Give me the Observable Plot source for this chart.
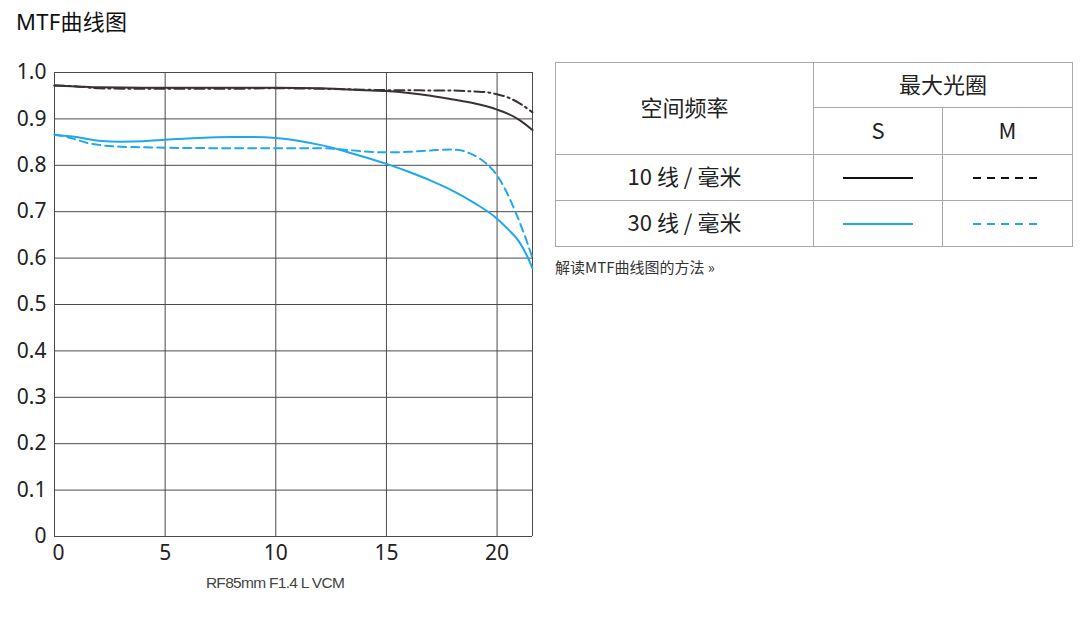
<!DOCTYPE html>
<html>
<head>
<meta charset="utf-8">
<script src="https://cdn.jsdelivr.net/npm/d3@7"></script>
<script src="https://cdn.jsdelivr.net/npm/@observablehq/plot@0.6"></script>
<style>
  html, body { margin: 0; padding: 0; background: #fff; }
  body { width: 1080px; height: 619px; position: relative; overflow: hidden;
         font-family: "Noto Sans", "Noto Sans CJK SC", sans-serif; color: #222; }
  #title { position: absolute; left: 16px; top: 4px; font-size: 22px; color: #111;
           font-family: "Noto Sans", "Noto Sans CJK SC", sans-serif; letter-spacing: 0.3px; }
  #chart { position: absolute; left: 0; top: 0; }
  #caption { position: absolute; left: 175px; width: 200px; top: 574px; text-align: center;
             font-family: "Liberation Sans", Arial, sans-serif; font-size: 15.5px; color: #444; letter-spacing: -0.7px; }
  #legend { position: absolute; left: 555px; top: 62px; border-collapse: collapse; width: 518px; }
  #legend td { border: 1px solid #a8a8a8; text-align: center; font-size: 22px; color: #222; padding: 0 0 4px 0;
               font-family: "Noto Sans CJK SC", "Noto Sans", sans-serif; line-height: 1.2; }
  #link { position: absolute; left: 555px; top: 256px; font-size: 15px; color: #333;
          font-family: "Noto Sans CJK SC", "Noto Sans", sans-serif; }
</style>
</head>
<body>
<div id="title"></div>
<div id="chart"></div>
<div id="caption"></div>
<table id="legend"></table>
<div id="link"></div>
<script>
// ---- data ----
const titleText = "MTF曲线图";
const captionText = "RF85mm F1.4 L VCM";
const linkText = "解读MTF曲线图的方法 »";
const xTicks = [0, 5, 10, 15, 20];
const yTicks = [0, 0.1, 0.2, 0.3, 0.4, 0.5, 0.6, 0.7, 0.8, 0.9, 1.0];
const xMax = 21.6;

const x10S = [0, 1, 2, 4, 6, 8, 10, 12, 13, 14, 15, 16, 17, 18, 19, 20, 20.5, 21, 21.6];
const v10S = [0.972, 0.970, 0.968, 0.967, 0.967, 0.967, 0.967, 0.966, 0.964, 0.962, 0.960, 0.956, 0.950, 0.942, 0.933, 0.920, 0.911, 0.898, 0.876];

const x10M = [0, 1, 2, 4, 6, 8, 10, 12, 14, 15, 16, 17, 18, 19, 19.6, 20, 20.5, 21, 21.6];
const v10M = [0.972, 0.970, 0.966, 0.965, 0.965, 0.965, 0.966, 0.965, 0.963, 0.962, 0.962, 0.961, 0.961, 0.959, 0.957, 0.953, 0.946, 0.934, 0.914];

const x30S = [0, 1, 2, 3, 4, 5, 6, 7, 8, 9, 10, 11, 12, 13, 14, 15, 16, 17, 18, 19, 20, 20.5, 21, 21.3, 21.6];
const v30S = [0.866, 0.861, 0.853, 0.851, 0.852, 0.855, 0.858, 0.860, 0.861, 0.861, 0.859, 0.853, 0.844, 0.832, 0.818, 0.803, 0.786, 0.767, 0.745, 0.718, 0.685, 0.662, 0.635, 0.610, 0.578];

const x30M = [0, 0.5, 1, 1.5, 2, 3, 4, 5, 7, 9, 10, 11, 12, 13, 14, 15, 16, 17, 17.8, 18.4, 18.8, 19.2, 19.6, 20, 20.4, 20.8, 21.2, 21.6];
const v30M = [0.866, 0.862, 0.855, 0.848, 0.844, 0.840, 0.839, 0.838, 0.837, 0.837, 0.837, 0.837, 0.837, 0.834, 0.830, 0.828, 0.829, 0.832, 0.834, 0.832, 0.825, 0.815, 0.800, 0.778, 0.745, 0.703, 0.655, 0.600];

const headerFreq = "空间频率";
const headerAperture = "最大光圈";
const colLabels = ["S", "M"];
const rowLabels = ["10 线 / 毫米", "30 线 / 毫米"];

const darkColor = "#3a3232";
const blueColor = "#1fa8ec";

// ---- chart ----
const toPts = (xs, vs) => xs.map((x, i) => ({x, v: vs[i]}));

const chart = Plot.plot({
  width: 545,
  height: 619,
  marginTop: 72,
  marginBottom: 83,
  marginLeft: 54,
  marginRight: 13,
  x: {domain: [0, xMax]},
  y: {domain: [0, 1]},
  style: {fontFamily: "'Noto Sans', 'Noto Sans CJK SC', sans-serif", fontSize: "21px", color: "#222", background: "transparent"},
  marks: [
    Plot.ruleY(yTicks, {y: d => d, stroke: "#4a4a4a", strokeWidth: 1, strokeOpacity: 1}),
    Plot.ruleX([...xTicks, xMax], {x: d => d, stroke: "#4a4a4a", strokeWidth: 1, strokeOpacity: 1}),
    Plot.axisY({ticks: yTicks, tickSize: 0, tickPadding: 8, label: null, fontSize: 21,
                tickFormat: d => d === 0 ? "0" : d.toFixed(1)}),
    Plot.axisX({ticks: xTicks.slice(0, 1), tickSize: 0, tickPadding: 9, label: null, fontSize: 21, dx: 4, tickFormat: d => String(d)}),
    Plot.axisX({ticks: xTicks.slice(1), tickSize: 0, tickPadding: 9, label: null, fontSize: 21, tickFormat: d => String(d)}),
    Plot.line(toPts(x30M, v30M), {x: "x", y: "v", stroke: blueColor, strokeWidth: 2, strokeDasharray: "8,5", curve: "monotone-x"}),
    Plot.line(toPts(x30S, v30S), {x: "x", y: "v", stroke: blueColor, strokeWidth: 2, curve: "monotone-x"}),
    Plot.line(toPts(x10M, v10M), {x: "x", y: "v", stroke: darkColor, strokeWidth: 2, strokeDasharray: "10,4,2,4", curve: "monotone-x"}),
    Plot.line(toPts(x10S, v10S), {x: "x", y: "v", stroke: darkColor, strokeWidth: 2, curve: "monotone-x"})
  ]
});
document.getElementById("chart").appendChild(chart);
document.getElementById("title").textContent = titleText;
document.getElementById("caption").textContent = captionText;
document.getElementById("link").textContent = linkText;

// ---- legend table ----
function sample(color, dashed) {
  return `<svg width="72" height="6" style="display:block;margin:auto;position:relative;top:2px"><line x1="1" x2="71" y1="3" y2="3" stroke="${color}" stroke-width="2" ${dashed ? 'stroke-dasharray="8,6"' : ''}/></svg>`;
}
const table = document.getElementById("legend");
table.innerHTML = `
  <colgroup><col style="width:258px"><col style="width:129px"><col style="width:130px"></colgroup>
  <tr style="height:45px"><td rowspan="2">${headerFreq}</td><td colspan="2">${headerAperture}</td></tr>
  <tr style="height:47px"><td>${colLabels[0]}</td><td>${colLabels[1]}</td></tr>
  <tr style="height:46px"><td>${rowLabels[0]}</td><td>${sample("#111", false)}</td><td>${sample("#111", true)}</td></tr>
  <tr style="height:46px"><td>${rowLabels[1]}</td><td>${sample(blueColor, false)}</td><td>${sample(blueColor, true)}</td></tr>
`;
</script>
</body>
</html>
